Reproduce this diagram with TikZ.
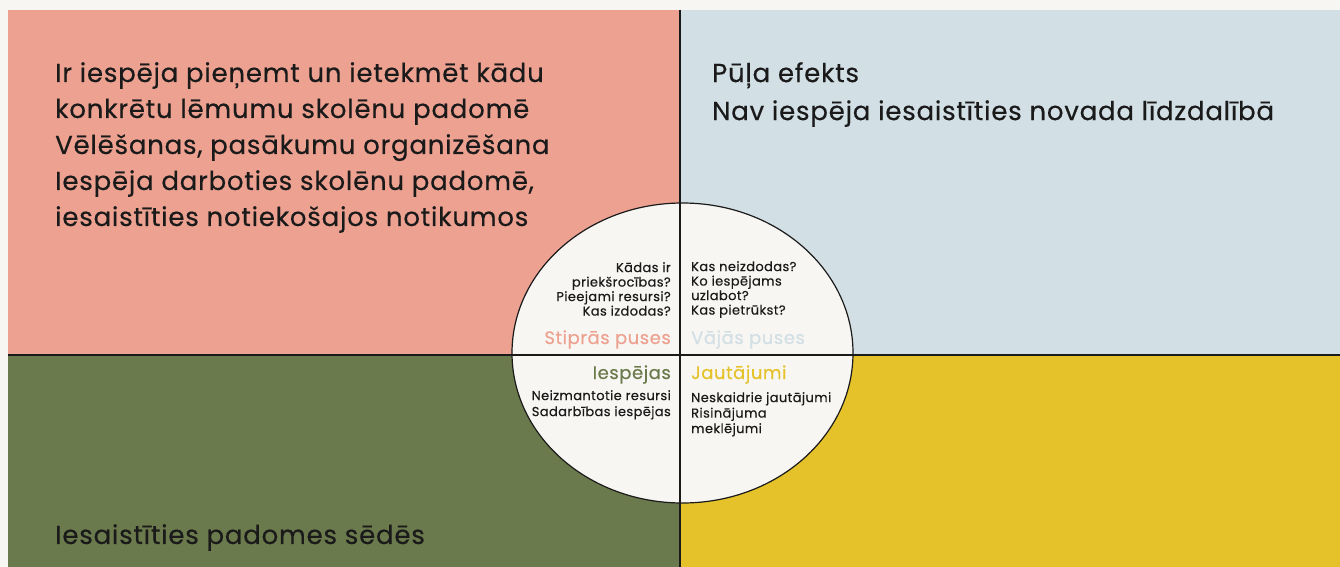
\documentclass[tikz,border=0pt]{standalone}
\usepackage{fontspec}
\setmainfont[LetterSpace=3,FakeBold=0.4]{Poppins}
\usepackage{xcolor}
\definecolor{swotbg}{RGB}{248,246,242}
\definecolor{swotpink}{RGB}{237,162,145}
\definecolor{swotblue}{RGB}{210,223,229}
\definecolor{swotolive}{RGB}{107,122,76}
\definecolor{swotyellow}{RGB}{229,193,42}
\definecolor{swotink}{RGB}{26,26,26}
\usepackage{tikz}
\usetikzlibrary{
  positioning,
  calc
}

\begin{document}
\begin{tikzpicture}[
    x=1pt, y=-1pt,
    bigtext/.style={anchor=north west, inner sep=0pt, align=left,
      font=\fontsize{26}{36}\selectfont, text=swotink},
    smalltext/.style={inner sep=0pt, font=\fontsize{13}{14.5}\selectfont, text=swotink},
    headtext/.style={inner sep=0pt, font=\fontsize{18}{20}\selectfont}
  ]

  \useasboundingbox (0,0) rectangle (1340,567);
  \fill[swotbg] (0,0) rectangle (1340,567);

  %% --- Four quadrants ---
  \fill[swotpink]   (8,10)   rectangle (680,355);
  \fill[swotblue]   (680,10) rectangle (1340,355);
  \fill[swotolive]  (8,355)  rectangle (680,567);
  \fill[swotyellow] (680,355) rectangle (1340,567);

  %% --- Centre disc ---
  \draw[fill=swotbg, draw=swotink, line width=1.2pt] (682.5,353) ellipse (170.5 and 150);

  %% --- Axes ---
  \draw[line width=2pt, swotink] (680,10) -- (680,567);
  \draw[line width=2pt, swotink] (8,355) -- (1340,355);

  %% --- Quadrant texts ---
  \node[bigtext] (strong) at (55,62)
    {Ir iespēja pieņemt un ietekmēt kādu\\
     konkrētu lēmumu skolēnu padomē\\
     Vēlēšanas, pasākumu organizēšana\\
     Iespēja darboties skolēnu padomē,\\
     iesaistīties notiekošajos notikumos};

  \node[bigtext, font=\fontsize{26}{38}\selectfont] (weak) at (712,62)
    {Pūļa efekts\\
     Nav iespēja iesaistīties novada līdzdalībā};

  \node[bigtext] (chance) at (55,524)
    {Iesaistīties padomes sēdēs};

  %% --- Disc texts ---
  \node[smalltext, anchor=north east, align=right] (strongq) at (671,262)
    {Kādas ir\\ priekšrocības?\\ Pieejami resursi?\\ Kas izdodas?};
  \node[headtext, anchor=base east, text=swotpink] (stronghead) at (671,344) {Stiprās puses};

  \node[smalltext, anchor=north west, align=left] (weakq) at (691,261)
    {Kas neizdodas?\\ Ko iespējams\\ uzlabot?\\ Kas pietrūkst?};
  \node[headtext, anchor=base west, text=swotblue] (weakhead) at (691,344) {Vājās puses};

  \node[headtext, anchor=base east, text=swotolive] (chancehead) at (671,379) {Iespējas};
  \node[smalltext, anchor=north east, align=right, font=\fontsize{13}{16}\selectfont] (chanceq) at (671,390)
    {Neizmantotie resursi\\ Sadarbības iespējas};

  \node[headtext, anchor=base west, text=swotyellow] (askhead) at (691,379) {Jautājumi};
  \node[smalltext, anchor=north west, align=left, font=\fontsize{13}{15.5}\selectfont] (askq) at (691,392)
    {Neskaidrie jautājumi\\ Risinājuma\\ meklējumi};
\end{tikzpicture}
\end{document}
